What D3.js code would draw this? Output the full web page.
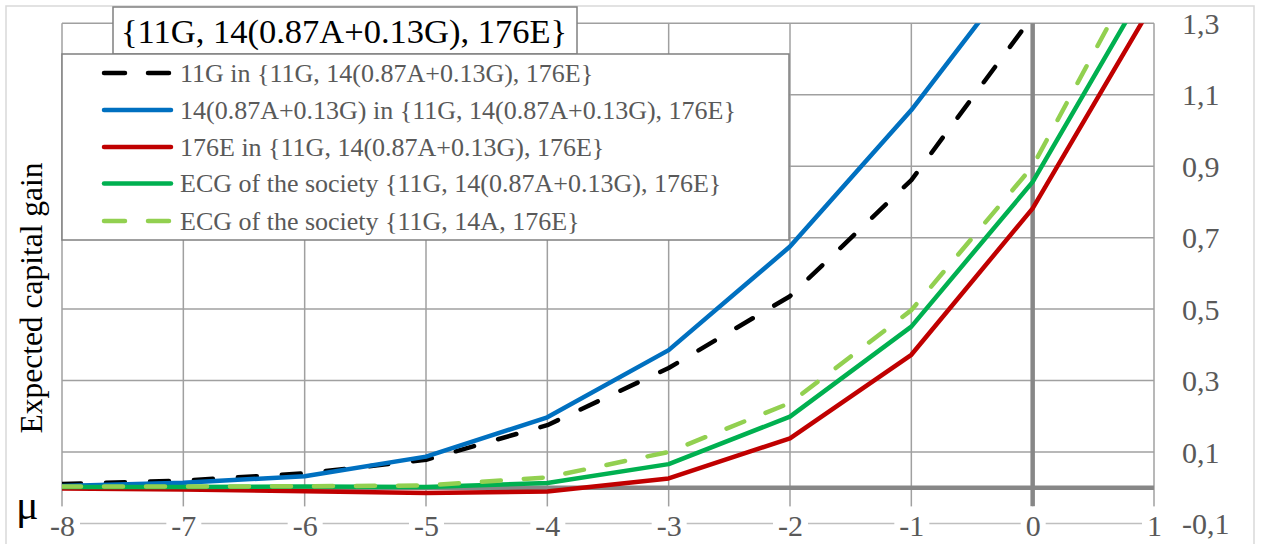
<!DOCTYPE html>
<html><head><meta charset="utf-8">
<script src="https://cdn.jsdelivr.net/npm/d3@7"></script>
<style>
html,body{margin:0;padding:0;background:#fff;}
svg{display:block;font-family:"Liberation Serif","Times New Roman",serif;}
</style></head>
<body>
<svg id="chart" width="1262" height="544"></svg>
<script>
// ---- data ----
const mu = [-8, -7, -6, -5, -4, -3, -2, -1, 0, 1];
const gain11G      = [0.010, 0.020, 0.040, 0.078, 0.175, 0.335, 0.536, 0.861, 1.320, 1.80];
const gain14AG     = [0.005, 0.014, 0.032, 0.087, 0.197, 0.385, 0.675, 1.057, 1.500, 2.00];
const gain176E     = [-0.002, -0.005, -0.010, -0.015, -0.011, 0.026, 0.138, 0.372, 0.782, 1.36];
const ecgSociety   = [0.002, 0.002, 0.003, 0.002, 0.013, 0.066, 0.199, 0.451, 0.856, 1.44];
const ecgSociety14A= [0.003, 0.003, 0.004, 0.006, 0.029, 0.100, 0.237, 0.497, 0.900, 1.53];
const seriesNames = [
  "11G in {11G, 14(0.87A+0.13G), 176E}",
  "14(0.87A+0.13G) in {11G, 14(0.87A+0.13G), 176E}",
  "176E in {11G, 14(0.87A+0.13G), 176E}",
  "ECG of the society {11G, 14(0.87A+0.13G), 176E}",
  "ECG of the society {11G, 14A, 176E}"
];
const xTicks = [-8, -7, -6, -5, -4, -3, -2, -1, 0, 1];
const xTickLabels = ["-8", "-7", "-6", "-5", "-4", "-3", "-2", "-1", "0", "1"];
const yTicks = [-0.1, 0.1, 0.3, 0.5, 0.7, 0.9, 1.1, 1.3];
const yTickLabels = ["-0,1", "0,1", "0,3", "0,5", "0,7", "0,9", "1,1", "1,3"];
const chartTitle = "{11G, 14(0.87A+0.13G), 176E}";
const yTitle = "Expected capital gain";
const xTitle = "μ";

// ---- styles ----
const styles = [
  {color: "#000000", dash: "19,25"},
  {color: "#0070C0", dash: null},
  {color: "#C00000", dash: null},
  {color: "#00B050", dash: null},
  {color: "#92D050", dash: "19,23"}
];
const seriesValues = [gain11G, gain14AG, gain176E, ecgSociety, ecgSociety14A];

const svg = d3.select("#chart");
const L = 62, R = 1154, T = 23.3, B = 523.4;
const x = d3.scaleLinear().domain([-8, 1]).range([L, R]);
const y = d3.scaleLinear().domain([-0.1, 1.3]).range([B, T]);

// outer frame
svg.append("rect").attr("x", 6).attr("y", 6).attr("width", 1248).attr("height", 545)
  .attr("fill", "#fff").attr("stroke", "#d9d9d9").attr("stroke-width", 1.5);

// grid
const grid = svg.append("g");
grid.selectAll("line.h").data(yTicks.filter(v => v > 0)).join("line")
  .attr("x1", L).attr("x2", R).attr("y1", d => y(d)).attr("y2", d => y(d))
  .attr("stroke", "#a0a0a0").attr("stroke-width", 1.5);
grid.append("line").attr("x1", L).attr("x2", R).attr("y1", y(-0.1)).attr("y2", y(-0.1))
  .attr("stroke", "#bfbfbf").attr("stroke-width", 1.5);
grid.selectAll("line.v").data(xTicks).join("line")
  .attr("x1", d => x(d)).attr("x2", d => x(d)).attr("y1", T).attr("y2", B)
  .attr("stroke", "#a0a0a0").attr("stroke-width", 1.5);
// zero lines
svg.append("line").attr("x1", L).attr("x2", R).attr("y1", y(0)).attr("y2", y(0))
  .attr("stroke", "#878787").attr("stroke-width", 4.5);
svg.append("line").attr("x1", x(0)).attr("x2", x(0)).attr("y1", T).attr("y2", B - 17)
  .attr("stroke", "#878787").attr("stroke-width", 4.5);

// x axis labels
const xAxis = svg.append("g").attr("transform", `translate(0,${y(-0.1)})`)
  .call(d3.axisBottom(x).tickValues(xTicks).tickSize(0).tickPadding(0)
    .tickFormat((d, i) => xTickLabels[i]));
xAxis.select(".domain").remove();
xAxis.selectAll("text").attr("dy", "0.34em").attr("y", 2)
  .attr("font-family", "Liberation Serif").attr("font-size", 30).attr("fill", "#595959");
xAxis.selectAll(".tick").each(function() {
  const t = d3.select(this).select("text");
  const bb = t.node().getBBox();
  d3.select(this).insert("rect", "text")
    .attr("x", bb.x - 5).attr("y", -17).attr("width", bb.width + 10).attr("height", 34)
    .attr("fill", "#fff");
});

// y axis labels (right)
const yAxis = svg.append("g").attr("transform", `translate(1182,0)`)
  .call(d3.axisRight(y).tickValues(yTicks).tickSize(0).tickPadding(0)
    .tickFormat((d, i) => yTickLabels[i]));
yAxis.select(".domain").remove();
yAxis.selectAll("text").attr("font-family", "Liberation Serif").attr("font-size", 30)
  .attr("fill", "#595959").attr("text-anchor", "start").attr("dy", "0.34em");

// clip
svg.append("clipPath").attr("id", "clip").append("rect")
  .attr("x", L).attr("y", T).attr("width", R - L).attr("height", B - T);

const line = d3.line().x((d, i) => x(mu[i])).y(d => y(d));
const lines = svg.append("g").attr("clip-path", "url(#clip)");
seriesValues.forEach((vals, k) => {
  lines.append("path").datum(vals).attr("d", line)
    .attr("fill", "none").attr("stroke", styles[k].color).attr("stroke-width", 4.5)
    .attr("stroke-linejoin", "round")
    .attr("stroke-linecap", styles[k].dash ? "round" : "butt")
    .attr("stroke-dasharray", styles[k].dash);
});

// title box
svg.append("rect").attr("x", 113).attr("y", 7).attr("width", 464).attr("height", 47)
  .attr("fill", "#fff").attr("stroke", "#808080").attr("stroke-width", 1.5);
svg.append("text").attr("x", 344).attr("y", 43).attr("text-anchor", "middle")
  .attr("font-size", 34.5).attr("fill", "#000").text(chartTitle);

// legend box
svg.append("rect").attr("x", 62).attr("y", 54).attr("width", 727).attr("height", 186)
  .attr("fill", "#fff").attr("stroke", "#808080").attr("stroke-width", 1.5);
const legRows = [73, 110, 147, 183.5, 221];
const leg = svg.append("g");
seriesNames.forEach((name, k) => {
  const g = leg.append("g").attr("transform", `translate(0,${legRows[k]})`);
  g.append("line").attr("x1", 104).attr("x2", 171).attr("y1", 0).attr("y2", 0)
    .attr("stroke", styles[k].color).attr("stroke-width", 4.5)
    .attr("stroke-linecap", "round")
    .attr("stroke-dasharray", styles[k].dash ? "21,23" : null);
  g.append("text").attr("x", 180).attr("y", 0).attr("dy", "0.34em")
    .attr("font-size", 26).attr("fill", "#595959").text(name);
});

// axis titles
svg.append("text").attr("transform", `translate(42,298) rotate(-90)`)
  .attr("text-anchor", "middle").attr("font-size", 31.5).attr("fill", "#000").text(yTitle);
svg.append("text").attr("x", 16).attr("y", 519).attr("font-size", 42)
  .attr("fill", "#000").text(xTitle);
</script>
</body></html>
